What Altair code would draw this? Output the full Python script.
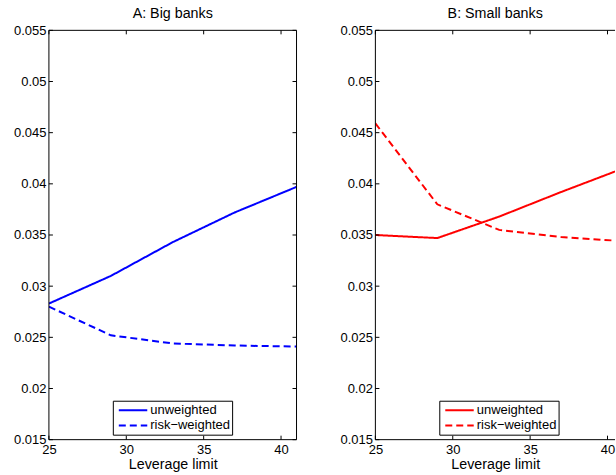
import altair as alt
import pandas as pd

# Leverage limits on the horizontal axis
leverage = [25, 29, 33, 37, 41]

# Panel A: big banks
big_unweighted = [0.0283, 0.0310, 0.0343, 0.0372, 0.0397]
big_risk_weighted = [0.0280, 0.0252, 0.0244, 0.0242, 0.0241]

# Panel B: small banks
small_unweighted = [0.0350, 0.0347, 0.0368, 0.0392, 0.0415]
small_risk_weighted = [0.0459, 0.0380, 0.0355, 0.0348, 0.0344]

series_names = ["unweighted", "risk\u2212weighted"]
panel_titles = ["A: Big banks", "B: Small banks"]
x_tick_values = [25, 30, 35, 40]
y_tick_values = [0.015, 0.02, 0.025, 0.03, 0.035, 0.04, 0.045, 0.05, 0.055]
x_label = "Leverage limit"

H = 410
PX_PER_UNIT = 248 / 16.0
FONT = "Liberation Sans"
DASHES = [[1, 0], [7, 4]]


def panel(title, unweighted, risk_weighted, color, width, closed=True):
    x_max = 25 + width / PX_PER_UNIT
    df = pd.DataFrame({
        "leverage": leverage * 2,
        "value": unweighted + risk_weighted,
        "series": [series_names[0]] * len(leverage) + [series_names[1]] * len(leverage),
    })
    x_scale = alt.Scale(domain=[25, x_max], nice=False, zero=False)
    y_scale = alt.Scale(domain=[0.015, 0.055], nice=False, zero=False)

    x_axis = alt.Axis(values=x_tick_values, title=x_label, ticks=False, domain=False,
                      grid=False, labelPadding=4, titlePadding=1, format="d",
                      labelFontSize=13, titleFontSize=14.3, titleFontWeight="normal",
                      labelFont=FONT, titleFont=FONT, labelColor="black", titleColor="black",
                      labelFlush=False)
    y_axis = alt.Axis(values=y_tick_values, title=None, ticks=False, domain=False,
                      grid=False, labelPadding=3, format=".3~f", labelFontSize=13,
                      labelFont=FONT, labelColor="black", labelFlush=False)

    lines = alt.Chart(df).mark_line(strokeWidth=2, color=color, clip=True).encode(
        x=alt.X("leverage:Q", scale=x_scale, axis=x_axis),
        y=alt.Y("value:Q", scale=y_scale, axis=y_axis),
        strokeDash=alt.StrokeDash("series:N",
                                  scale=alt.Scale(domain=series_names, range=DASHES),
                                  legend=None),
    )

    # axes box and inward tick marks
    one = pd.DataFrame({"k": [0]})
    layers = [lines]
    frame = [
        dict(x=alt.value(0), x2=alt.value(width), y=alt.value(0)),
        dict(x=alt.value(0), x2=alt.value(width), y=alt.value(H)),
        dict(x=alt.value(0), y=alt.value(0), y2=alt.value(H)),
    ]
    if closed:
        frame.append(dict(x=alt.value(width), y=alt.value(0), y2=alt.value(H)))
    for enc in frame:
        layers.append(alt.Chart(one).mark_rule(color="black", strokeWidth=1).encode(**enc))

    xt = pd.DataFrame({"leverage": x_tick_values})
    yt = pd.DataFrame({"value": y_tick_values})
    xenc = alt.X("leverage:Q", scale=x_scale, axis=x_axis)
    yenc = alt.Y("value:Q", scale=y_scale, axis=y_axis)
    layers.append(alt.Chart(xt).mark_rule(color="black", strokeWidth=1).encode(
        x=xenc, y=alt.value(H), y2=alt.value(H - 4)))
    layers.append(alt.Chart(xt).mark_rule(color="black", strokeWidth=1).encode(
        x=xenc, y=alt.value(0), y2=alt.value(4)))
    layers.append(alt.Chart(yt).mark_rule(color="black", strokeWidth=1).encode(
        y=yenc, x=alt.value(0), x2=alt.value(4)))
    if closed:
        layers.append(alt.Chart(yt).mark_rule(color="black", strokeWidth=1).encode(
            y=yenc, x=alt.value(width), x2=alt.value(width - 4)))

    # legend box in the lower middle of the panel
    layers.append(alt.Chart(one).mark_rect(
        fill="white", stroke="black", strokeWidth=1).encode(
        x=alt.value(64.5), x2=alt.value(184), y=alt.value(371.5), y2=alt.value(405.5)))
    for i, name in enumerate(series_names):
        row_y = 380.5 + 15.3 * i
        key_df = pd.DataFrame({"label": [name]})
        layers.append(alt.Chart(key_df).mark_rule(
            color=color, strokeWidth=2, strokeDash=DASHES[i]).encode(
            x=alt.value(70), x2=alt.value(98.5), y=alt.value(row_y)))
        layers.append(alt.Chart(key_df).mark_text(
            align="left", baseline="middle", fontSize=13, font=FONT, color="black").encode(
            x=alt.value(101.5), y=alt.value(row_y), text="label:N"))

    return alt.layer(*layers).properties(
        width=width, height=H,
        title=alt.TitleParams(title, fontSize=14.3, fontWeight="normal", font=FONT,
                              color="black", offset=3),
    )


left = panel(panel_titles[0], big_unweighted, big_risk_weighted, "#0000ff", 248)
right = panel(panel_titles[1], small_unweighted, small_risk_weighted, "#ff0000", 240,
              closed=False)

chart = alt.hconcat(left, right, spacing=42).properties(
    padding={"left": 13, "top": 6, "right": 0, "bottom": 0},
    background="white",
).configure_view(stroke=None)

chart.save("out.html", embed_options={"renderer": "svg", "actions": False})
